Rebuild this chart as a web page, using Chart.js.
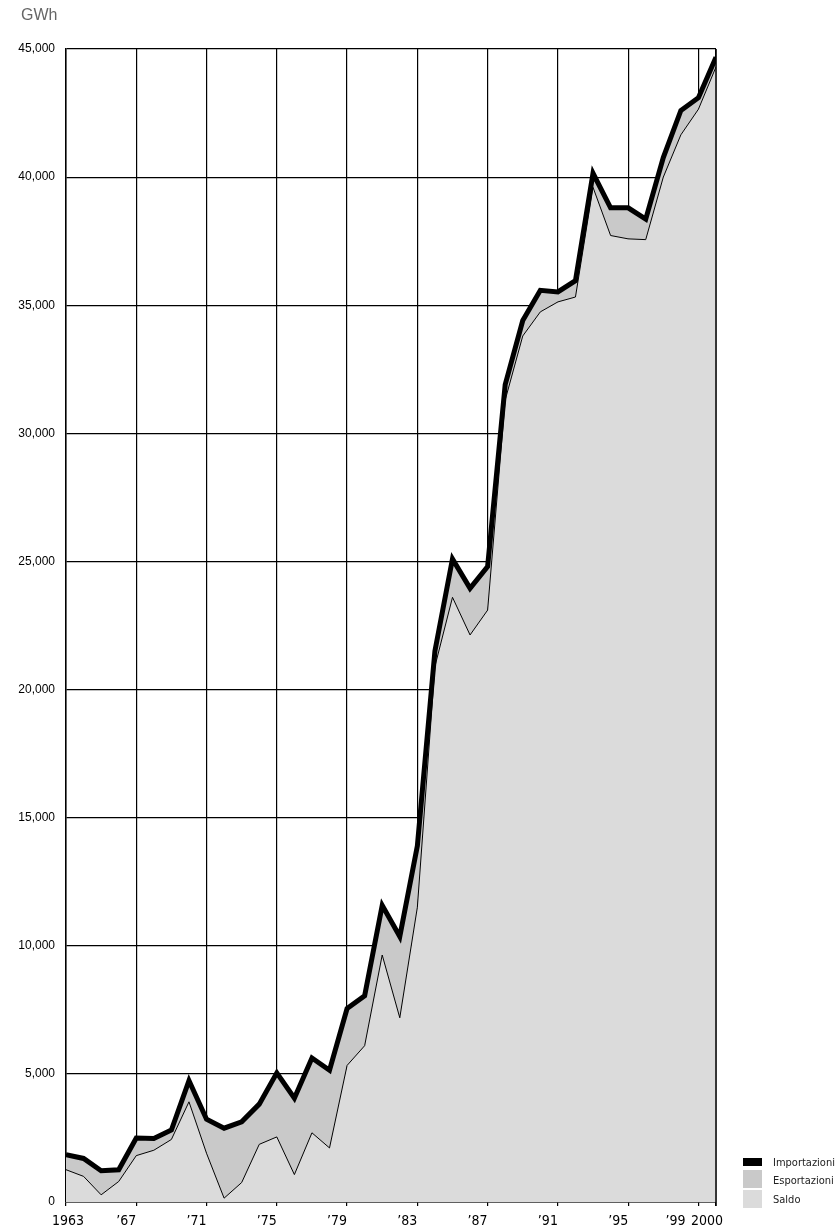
<!DOCTYPE html>
<html>
<head>
<meta charset="utf-8">
<script src="https://cdn.jsdelivr.net/npm/chart.js@4.4.0/dist/chart.umd.min.js"></script>
<style>
  body { margin: 0; background: #fff; }
  #wrap { width: 835px; height: 1231px; }
</style>
</head>
<body>
<div id="wrap"><canvas id="chart"></canvas></div>
<script>
// Data (GWh)
const years = [1963, 1964, 1965, 1966, 1967, 1968, 1969, 1970, 1971, 1972,
  1973, 1974, 1975, 1976, 1977, 1978, 1979, 1980, 1981, 1982,
  1983, 1984, 1985, 1986, 1987, 1988, 1989, 1990, 1991, 1992,
  1993, 1994, 1995, 1996, 1997, 1998, 1999, 2000];

const importazioni = [1850, 1700, 1220, 1260, 2500, 2480, 2810, 4740, 3230, 2880,
  3130, 3820, 5040, 4050, 5620, 5140, 7550, 8050, 11580, 10360,
  13900, 21500, 25100, 23950, 24800, 31900, 34400, 35580, 35520, 35960,
  40150, 38800, 38800, 38360, 40760, 42600, 43100, 44680];

const saldo = [1260, 1000, 280, 800, 1810, 2020, 2440, 3910, 1900, 150,
  760, 2250, 2540, 1070, 2700, 2110, 5330, 6100, 9640, 7190,
  11500, 20900, 23600, 22130, 23100, 31300, 33800, 34740, 35130, 35320,
  39600, 37720, 37590, 37560, 40000, 41650, 42650, 44300];

const xTickYears = [1963, 1967, 1971, 1975, 1979, 1983, 1987, 1991, 1995, 1999, 2000];
const yMax = 45000;
const yStep = 5000;
const legendLabels = ["Importazioni", "Esportazioni", "Saldo"];

const colImport = "#000000";
const colExport = "#c9c9c9";
const colSaldo = "#dbdbdb";

// label alignment tweaks (style only)
const labelAlign = { 1963: ["center", 2], 1999: ["right", -13], 2000: ["right", 7] };

function yearLabel(v) {
  if (v === 1963 || v === 2000) return String(v);
  return "\u2019" + String(v).slice(2);
}

function toPoints(vals) {
  return years.map((yr, i) => ({ x: yr, y: vals[i] }));
}

const textPlugin = {
  id: "extraText",
  afterDraw(chart) {
    const ctx = chart.ctx;
    const area = chart.chartArea;
    const xs = chart.scales.x;
    ctx.save();

    // right frame (the fill hides the last grid line)
    ctx.strokeStyle = "#000";
    ctx.lineWidth = 1.5;
    ctx.beginPath();
    ctx.moveTo(area.right, area.top);
    ctx.lineTo(area.right, area.bottom + 4);
    ctx.stroke();

    // unit
    ctx.fillStyle = "#666";
    ctx.font = '16px "Liberation Sans", Arial, sans-serif';
    ctx.textAlign = "left";
    ctx.textBaseline = "middle";
    ctx.fillText("GWh", 21, 16);

    // x labels
    ctx.fillStyle = "#000";
    ctx.font = '14px "Liberation Sans Narrow", "DejaVu Sans Condensed", sans-serif';
    xTickYears.forEach(v => {
      const a = labelAlign[v] || ["right", 0];
      ctx.textAlign = a[0];
      ctx.fillText(yearLabel(v), xs.getPixelForValue(v) + a[1], area.bottom + 19);
    });

    // legend
    const lx = area.right + 27;
    const boxes = [[1158, 8, colImport], [1170, 18, colExport], [1190, 18, colSaldo]];
    const textY = [1163, 1181, 1200];
    ctx.font = '11px "Liberation Sans Narrow", "DejaVu Sans Condensed", sans-serif';
    ctx.textAlign = "left";
    legendLabels.forEach((t, i) => {
      ctx.fillStyle = boxes[i][2];
      ctx.fillRect(lx, boxes[i][0], 19, boxes[i][1]);
      ctx.fillStyle = "#222";
      ctx.fillText(t, lx + 30, textY[i]);
    });
    ctx.restore();
  }
};

const ctx = document.getElementById("chart").getContext("2d");
new Chart(ctx, {
  type: "line",
  data: {
    datasets: [
      {
        label: "Saldo",
        data: toPoints(saldo),
        borderColor: "#000",
        borderWidth: 1,
        backgroundColor: colSaldo,
        fill: "origin",
        pointRadius: 0,
        tension: 0,
        order: 1
      },
      {
        label: "Importazioni",
        data: toPoints(importazioni),
        borderColor: colImport,
        borderWidth: 5,
        borderJoinStyle: "miter",
        backgroundColor: colExport,
        fill: "-1",
        pointRadius: 0,
        tension: 0,
        order: 0
      }
    ]
  },
  options: {
    responsive: true,
    maintainAspectRatio: false,
    animation: false,
    layout: { padding: { left: 0, right: 119, top: 49, bottom: 0 } },
    plugins: {
      legend: { display: false },
      tooltip: { enabled: false },
      filler: { drawTime: "beforeDatasetsDraw" }
    },
    scales: {
      x: {
        type: "linear",
        min: 1963,
        max: 2000,
        afterBuildTicks: scale => { scale.ticks = xTickYears.map(v => ({ value: v })); },
        afterFit: scale => { scale.height = 29; },
        ticks: { display: false },
        grid: { color: "#000", lineWidth: 1.2, drawTicks: true, tickLength: 4, tickColor: "#000" },
        border: { color: "#000", width: 1.5 }
      },
      y: {
        min: 0,
        max: yMax,
        afterFit: scale => { scale.width = 66; },
        ticks: {
          stepSize: yStep,
          padding: 11,
          color: "#000",
          font: { family: '"Liberation Sans", Arial, sans-serif', size: 12 },
          callback: v => v.toLocaleString("en-US")
        },
        grid: { color: "#000", lineWidth: 1.2, drawTicks: false },
        border: { color: "#000", width: 1.5 }
      }
    }
  },
  plugins: [textPlugin]
});
</script>
</body>
</html>
